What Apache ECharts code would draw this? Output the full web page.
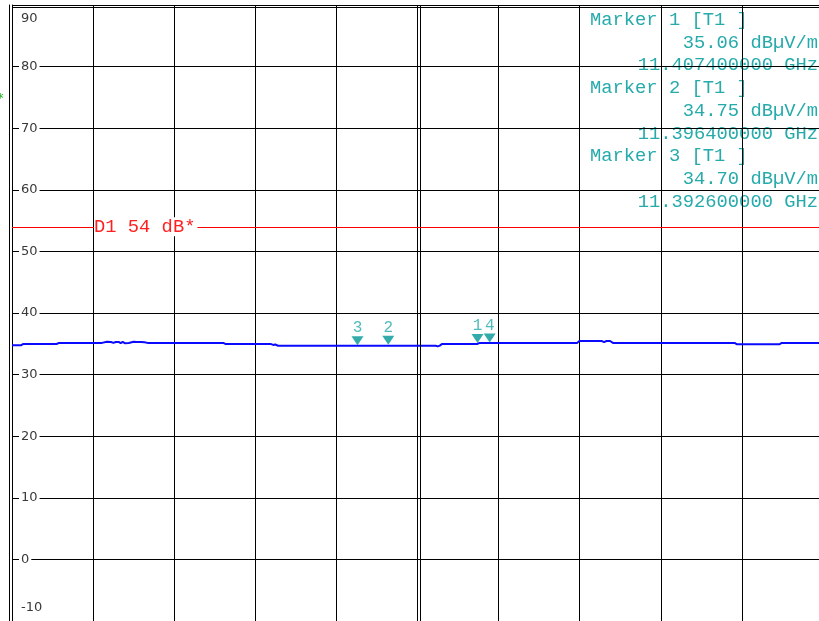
<!DOCTYPE html>
<html>
<head>
<meta charset="utf-8">
<script src="https://cdn.jsdelivr.net/npm/echarts@6/dist/echarts.min.js"></script>
<style>
html,body{margin:0;padding:0;background:#fff;}
#chart{width:819px;height:621px;}
</style>
</head>
<body>
<div id="chart"></div>
<script>
// ---- data ----
const traceFreqMHz = [
  11350.0, 11351.1, 11351.35, 11355.5, 11355.8, 11361.1,
  11361.3, 11361.7, 11361.9, 11362.2, 11362.5, 11362.8, 11363.15, 11363.4, 11363.65, 11363.9,
  11364.1, 11364.4, 11364.6, 11365.0, 11365.4, 11365.6, 11365.9, 11366.1, 11366.35, 11366.7,
  11376.05, 11376.3, 11376.45, 11376.7, 11381.95, 11382.2, 11382.45, 11382.8,
  11402.25, 11402.5, 11402.75, 11403.0, 11407.4, 11407.65,
  11419.45, 11419.6, 11419.7, 11419.95, 11422.3, 11422.5, 11422.75, 11423.0, 11423.3, 11423.5, 11423.75, 11424.1,
  11439.1, 11439.4, 11441.7, 11441.85, 11441.95, 11444.65, 11444.9, 11450.0
];
const traceLevelDb = [
  34.75, 34.75, 34.95, 34.97, 35.15, 35.15,
  35.32, 35.32, 35.1, 35.3, 35.15, 35.3, 35.3, 35.1, 35.3, 35.1,
  35.3, 35.12, 35.3, 35.32, 35.3, 35.1, 35.28, 35.1, 35.25, 35.15,
  35.15, 34.98, 35.08, 34.95, 34.95, 34.82, 34.9, 34.68,
  34.68, 34.58, 34.7, 34.95, 34.97, 35.15,
  35.15, 35.25, 35.15, 35.45, 35.45, 35.28, 35.45, 35.28, 35.45, 35.28, 35.45, 35.15,
  35.15, 34.92, 34.92, 35.05, 34.92, 34.92, 35.15, 35.15
];
const markerNames = ['1', '2', '3', '4'];
const markerFreqMHz = [11407.4, 11396.4, 11392.6, 11408.9];
const markerLevelDb = [35.06, 34.75, 34.70, 35.15];
const markerFreqGHzText = ['11.407400000', '11.396400000', '11.392600000'];
const markerLevelText = ['35.06', '34.75', '34.70'];
const displayLineDb = 54;
const displayLineLabel = 'D1 54 dB*';
const yTickLabels = [90, 80, 70, 60, 50, 40, 30, 20, 10, 0, -10];
const xMinMHz = 11350, xMaxMHz = 11450, xStepMHz = 10;

// ---- build ----
const traceData = traceFreqMHz.map((f, i) => [f, traceLevelDb[i]]);
const markerData = markerFreqMHz.map((f, i) => ({ name: markerNames[i], value: [f, markerLevelDb[i]] }));

const TEXT_TEAL = '#26aaaa';
const MARK_TEAL = '#009696';
const monoFont = "'Liberation Mono', 'Courier New', monospace";
const textSize = 18.8;

const graphics = [];
const lineGap = 22.75;
const y0 = 19.8;
for (let i = 0; i < markerFreqGHzText.length; i++) {
  const base = y0 + i * 3 * lineGap;
  graphics.push({ type: 'text', z: -1, x: 590, y: base, style: { text: 'Marker ' + (i + 1) + ' [T1 ]', fill: TEXT_TEAL, font: textSize + 'px ' + monoFont, textVerticalAlign: 'middle', textAlign: 'left' } });
  graphics.push({ type: 'text', z: -1, x: 818, y: base + lineGap, style: { text: markerLevelText[i] + ' dBµV/m', fill: TEXT_TEAL, font: textSize + 'px ' + monoFont, textVerticalAlign: 'middle', textAlign: 'right' } });
  graphics.push({ type: 'text', z: -1, x: 818, y: base + 2 * lineGap, style: { text: markerFreqGHzText[i] + ' GHz', fill: TEXT_TEAL, font: textSize + 'px ' + monoFont, textVerticalAlign: 'middle', textAlign: 'right' } });
}
graphics.push({ type: 'text', x: -3, y: 99, style: { text: '*', fill: '#19b419', font: '13px DejaVu Sans', textVerticalAlign: 'middle' } });

const chart = echarts.init(document.getElementById('chart'), null, { renderer: 'canvas' });
chart.setOption({
  animation: false,
  backgroundColor: '#fff',
  grid: { left: 12, top: 5, width: 811, height: 616, containLabel: false, outerBoundsMode: 'none' },
  xAxis: {
    type: 'value', min: xMinMHz, max: xMaxMHz, interval: xStepMHz,
    axisLabel: { show: false }, axisTick: { show: false }, axisLine: { show: false },
    splitLine: { show: true, lineStyle: { color: '#000', width: 1 } }
  },
  yAxis: [
    {
      type: 'value', min: -10, max: 90, interval: 10,
      axisLine: { show: true, lineStyle: { color: '#000', width: 1 } },
      axisTick: { show: false },
      splitLine: { show: true, lineStyle: { color: '#000', width: 1 } },
      axisLabel: {
        inside: true, margin: 7, showMinLabel: true, showMaxLabel: true,
        formatter: function (v) {
          if (yTickLabels.indexOf(v) < 0) return '';
          if (v === yTickLabels[0]) return '{t|' + v + '}';
          if (v === yTickLabels[yTickLabels.length - 1]) return '{b|' + v + '}';
          return '{n|' + v + '}';
        },
        rich: {
          t: { color: '#3a3a3a', fontSize: 13, fontFamily: 'DejaVu Sans', padding: [28, 2, 0, 2] },
          b: { color: '#3a3a3a', fontSize: 13, fontFamily: 'DejaVu Sans', padding: [0, 2, 26, 2] },
          n: { color: '#3a3a3a', fontSize: 13, fontFamily: 'DejaVu Sans', padding: [1, 2, 1, 2], backgroundColor: '#fff' }
        }
      }
    },
    {
      type: 'value', min: -10, max: 90, interval: 10, position: 'left', offset: 2.5,
      axisLine: { show: true, onZero: false, lineStyle: { color: '#000', width: 1 } },
      axisTick: { show: false }, axisLabel: { show: false }, splitLine: { show: false }
    }
  ],
  graphic: graphics,
  series: [
    {
      type: 'line', data: traceData, symbol: 'none', z: 3,
      lineStyle: { color: '#0a0aff', width: 2 },
      markLine: {
        silent: true, symbol: 'none', animation: false,
        data: [
          { xAxis: 11400.31, lineStyle: { color: '#000', width: 1, type: 'solid' }, label: { show: false } },
          { yAxis: 89.7, lineStyle: { color: '#000', width: 1, type: 'solid' }, label: { show: false } },
          {
            yAxis: displayLineDb, lineStyle: { color: '#ff0000', width: 1.2, type: 'solid' },
            label: {
              show: true, position: 'insideStart', distance: [82, 0], formatter: displayLineLabel,
              color: '#ff2020', fontFamily: monoFont, fontSize: textSize,
              backgroundColor: '#fff', padding: [0, 2, 0, 0]
            }
          }
        ]
      }
    },
    {
      type: 'scatter', data: markerData, z: 4,
      symbol: 'triangle', symbolRotate: 180, symbolSize: [12, 9], symbolOffset: [0, -5],
      itemStyle: { color: MARK_TEAL },
      label: { show: true, position: 'top', distance: 0, formatter: '{b}', color: TEXT_TEAL, fontSize: 16, fontFamily: monoFont }
    }
  ]
});
</script>
</body>
</html>
